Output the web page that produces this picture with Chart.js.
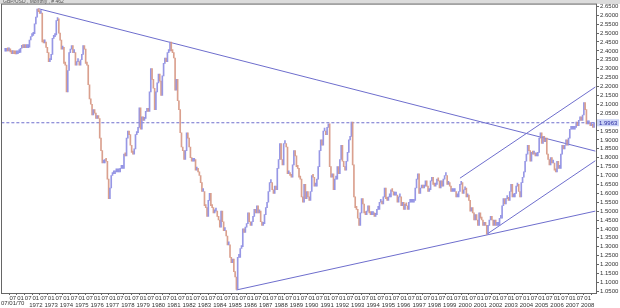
<!DOCTYPE html>
<html>
<head>
<meta charset="utf-8">
<script src="https://cdn.jsdelivr.net/npm/chart.js@4.4.1/dist/chart.umd.min.js"></script>
<style>
  html, body { margin: 0; padding: 0; background: #fff; }
</style>
</head>
<body>
<canvas id="chart" width="620" height="308"></canvas>
<script>
const title = 'GBP/USD , Monthly , # 462'
const firstDateLabel = '07/01/70'
const monthLabels = { 0: '01', 6: '07' }
const startYear = 1970
const lastPrice = 1.9963

// monthly closes
const closes1970s = [
  2.398, 2.405, 2.400, 2.401, 2.394, 2.385, 2.385, 2.384, 2.383, 2.384, 2.390, 2.392,
  2.415, 2.419, 2.418, 2.419, 2.418, 2.418, 2.421, 2.461, 2.481, 2.487, 2.497, 2.552,
  2.590, 2.635, 2.620, 2.610, 2.612, 2.450, 2.445, 2.450, 2.420, 2.390, 2.340, 2.350,
  2.380, 2.470, 2.480, 2.490, 2.570, 2.580, 2.500, 2.460, 2.410, 2.420, 2.330, 2.320,
  2.170, 2.290, 2.390, 2.410, 2.430, 2.390, 2.390, 2.320, 2.340, 2.340, 2.320, 2.350,
  2.380, 2.430, 2.410, 2.330, 2.320, 2.210, 2.130, 2.100, 2.040, 2.070, 2.050, 2.020,
  2.030, 2.020, 1.910, 1.840, 1.770, 1.770, 1.790, 1.780, 1.680, 1.570, 1.630, 1.700,
  1.710, 1.710, 1.720, 1.720, 1.720, 1.720, 1.740, 1.740, 1.740, 1.820, 1.810, 1.910,
  1.950, 1.930, 1.870, 1.830, 1.820, 1.850, 1.930, 1.940, 1.970, 2.080, 1.960, 2.030,
  2.010, 2.020, 2.060, 2.070, 2.060, 2.170, 2.300, 2.240, 2.190, 2.070, 2.170, 2.220,
]
const closes1980s = [
  2.270, 2.230, 2.150, 2.260, 2.330, 2.360, 2.340, 2.390, 2.400, 2.450, 2.400, 2.390,
  2.360, 2.180, 2.240, 2.120, 2.070, 1.940, 1.860, 1.840, 1.790, 1.840, 1.940, 1.910,
  1.860, 1.800, 1.780, 1.780, 1.790, 1.730, 1.740, 1.720, 1.700, 1.660, 1.610, 1.610,
  1.530, 1.520, 1.470, 1.560, 1.600, 1.530, 1.520, 1.490, 1.500, 1.500, 1.470, 1.450,
  1.410, 1.500, 1.440, 1.390, 1.390, 1.360, 1.310, 1.310, 1.240, 1.210, 1.230, 1.160,
  1.130, 1.060, 1.240, 1.240, 1.290, 1.300, 1.400, 1.380, 1.410, 1.430, 1.490, 1.440,
  1.420, 1.440, 1.470, 1.510, 1.490, 1.530, 1.490, 1.500, 1.440, 1.420, 1.430, 1.480,
  1.520, 1.550, 1.610, 1.660, 1.660, 1.620, 1.600, 1.640, 1.620, 1.740, 1.790, 1.880,
  1.790, 1.760, 1.880, 1.880, 1.860, 1.710, 1.710, 1.700, 1.690, 1.760, 1.840, 1.810,
  1.750, 1.740, 1.690, 1.680, 1.580, 1.550, 1.650, 1.570, 1.610, 1.580, 1.560, 1.610,
]
const closes1990s = [
  1.700, 1.690, 1.640, 1.640, 1.680, 1.750, 1.840, 1.900, 1.870, 1.950, 1.950, 1.930,
  1.970, 1.990, 1.750, 1.690, 1.710, 1.620, 1.680, 1.680, 1.750, 1.710, 1.790, 1.870,
  1.780, 1.750, 1.730, 1.780, 1.830, 1.900, 1.920, 2.000, 1.760, 1.580, 1.520, 1.510,
  1.460, 1.420, 1.490, 1.570, 1.540, 1.490, 1.480, 1.500, 1.530, 1.490, 1.480, 1.480,
  1.490, 1.470, 1.480, 1.510, 1.510, 1.550, 1.550, 1.540, 1.580, 1.630, 1.570, 1.560,
  1.580, 1.580, 1.620, 1.610, 1.590, 1.590, 1.590, 1.550, 1.580, 1.580, 1.530, 1.550,
  1.510, 1.540, 1.530, 1.510, 1.550, 1.550, 1.550, 1.550, 1.560, 1.630, 1.680, 1.710,
  1.600, 1.630, 1.640, 1.630, 1.640, 1.670, 1.640, 1.610, 1.620, 1.670, 1.690, 1.650,
  1.640, 1.650, 1.680, 1.670, 1.630, 1.670, 1.640, 1.680, 1.700, 1.700, 1.650, 1.660,
  1.640, 1.610, 1.610, 1.610, 1.610, 1.580, 1.580, 1.610, 1.650, 1.660, 1.600, 1.620,
]
const closes2000s = [
  1.630, 1.580, 1.590, 1.560, 1.500, 1.520, 1.490, 1.450, 1.480, 1.450, 1.420, 1.490,
  1.460, 1.450, 1.420, 1.430, 1.420, 1.370, 1.420, 1.450, 1.470, 1.450, 1.420, 1.450,
  1.420, 1.420, 1.420, 1.460, 1.460, 1.530, 1.570, 1.540, 1.570, 1.570, 1.560, 1.610,
  1.650, 1.580, 1.580, 1.600, 1.640, 1.650, 1.610, 1.580, 1.660, 1.690, 1.720, 1.780,
  1.820, 1.870, 1.840, 1.780, 1.830, 1.820, 1.820, 1.810, 1.810, 1.830, 1.910, 1.940,
  1.880, 1.920, 1.890, 1.910, 1.820, 1.790, 1.760, 1.800, 1.770, 1.770, 1.730, 1.720,
  1.780, 1.740, 1.740, 1.820, 1.870, 1.850, 1.870, 1.900, 1.870, 1.910, 1.960, 1.960,
  1.960, 1.960, 1.970, 2.000, 1.980, 2.010, 2.030, 2.010, 2.040, 2.110, 2.070, 1.990,
  1.990, 1.990, 1.980, 1.980, 1.970, 1.996,
]

// trend lines: [month index, price] pairs (month 0 = Jan 1970)
const resistanceLine = [[26, 2.637], [462, 1.837]]
const supportLine = [[181, 1.057], [462, 1.500]]
const channelLow = [[377, 1.370], [462, 1.783]]
const channelHigh = [[356, 1.685], [462, 2.197]]

const closes = [...closes1970s, ...closes1980s, ...closes1990s, ...closes2000s]

const bars = closes.map((c, i) => ({ x: i, y: [i ? closes[i - 1] : c, c] }))
const barColors = closes.map((c, i) =>
  i && c < closes[i - 1] ? 'rgba(214,150,130,0.9)' : 'rgba(140,140,226,0.9)',
)

const toPoints = line => line.map(([x, y]) => ({ x, y }))
const lineColor = 'rgb(110,110,205)'
const trend = (data, extra) => ({
  type: 'line',
  data: toPoints(data),
  borderColor: lineColor,
  borderWidth: 1,
  pointRadius: 0,
  ...extra,
})

const tickFont = { family: 'Liberation Sans', size: 6 }

const frame = {
  id: 'frame',
  beforeDraw(chart) {
    const { ctx, width } = chart
    ctx.save()
    ctx.fillStyle = '#fff'
    ctx.fillRect(0, 0, width, chart.height)
    ctx.fillStyle = '#dcdcdc'
    ctx.fillRect(0, 0, width, 4)
    ctx.fillStyle = '#555'
    ctx.font = '5px Liberation Sans'
    ctx.textBaseline = 'top'
    ctx.fillText(title, 3, -0.5)
    ctx.restore()
  },
  afterDraw(chart) {
    const { ctx, chartArea: a } = chart
    const yScale = chart.scales.y
    ctx.save()
    ctx.strokeStyle = '#666'
    ctx.lineWidth = 1
    ctx.strokeRect(a.left - 0.5, a.top - 0.5, a.right - a.left + 1, a.bottom - a.top + 1)
    ctx.fillStyle = '#333'
    ctx.font = '6px Liberation Sans'
    ctx.textBaseline = 'middle'
    ctx.fillText(firstDateLabel, 1, 303.5)
    // last price marker on the axis
    const py = yScale.getPixelForValue(lastPrice)
    ctx.fillStyle = '#c9d2f6'
    ctx.fillRect(597, py - 3.5, 22, 7)
    ctx.fillStyle = '#2a2aa0'
    ctx.fillText(lastPrice.toFixed(4), 599, py + 0.5)
    ctx.restore()
  },
}

new Chart(document.getElementById('chart'), {
  type: 'bar',
  data: {
    datasets: [
      {
        data: bars,
        backgroundColor: barColors,
        barThickness: 1,
        minBarLength: 3,
        borderWidth: 0,
      },
      trend(resistanceLine),
      trend(supportLine),
      trend(channelLow),
      trend(channelHigh),
      trend([[-3, lastPrice], [463, lastPrice]], { borderDash: [3, 2] }),
    ],
  },
  options: {
    responsive: false,
    animation: false,
    devicePixelRatio: 1,
    layout: { padding: { top: 4, left: 2, right: 0, bottom: 0 } },
    plugins: { legend: { display: false }, tooltip: { enabled: false } },
    scales: {
      x: {
        type: 'linear',
        min: -2.5,
        max: 462.5,
        offset: false,
        grid: { display: true, drawOnChartArea: false, tickLength: 2, color: '#666' },
        border: { display: false },
        afterBuildTicks: scale => {
          const ticks = []
          for (let m = 6; m <= 456; m += 6) ticks.push({ value: m })
          scale.ticks = ticks
        },
        afterFit: scale => {
          scale.height = 15
        },
        ticks: {
          autoSkip: false,
          maxRotation: 0,
          minRotation: 0,
          padding: 0,
          color: '#333',
          font: { ...tickFont, lineHeight: 1.1 },
          callback: v => {
            const month = monthLabels[v % 12]
            const year = startYear + v / 12
            return [month, v % 12 === 0 && year > 1971 ? String(year) : '']
          },
        },
      },
      y: {
        position: 'right',
        min: 1.04,
        max: 2.66,
        grid: { display: true, drawOnChartArea: false, tickLength: 3, color: '#666' },
        border: { display: false },
        afterBuildTicks: scale => {
          const ticks = []
          for (let k = 21; k <= 53; k++) ticks.push({ value: k * 0.05 })
          scale.ticks = ticks
        },
        afterFit: scale => {
          scale.width = 24
        },
        ticks: {
          autoSkip: false,
          padding: 1,
          color: '#333',
          font: tickFont,
          callback: v => v.toFixed(4),
        },
      },
    },
  },
  plugins: [frame],
})
</script>
</body>
</html>
